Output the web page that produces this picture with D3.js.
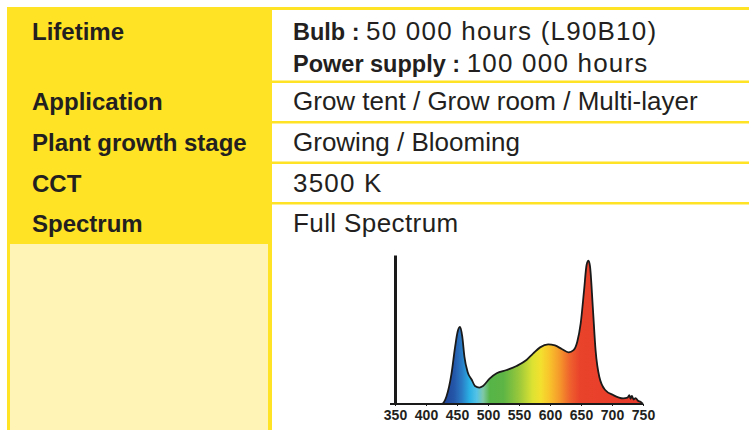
<!DOCTYPE html>
<html>
<head>
<meta charset="utf-8">
<script src="https://cdn.jsdelivr.net/npm/d3@7"></script>
<style>
  html,body{margin:0;padding:0;background:#fff;}
  svg{display:block;}
  .lbl{font-family:"Liberation Sans",Arial,sans-serif;font-weight:bold;font-size:24px;fill:#231f20;}
  .val{font-family:"Liberation Sans",Arial,sans-serif;font-size:26px;fill:#231f20;}
  .val tspan.b{font-weight:bold;font-size:23.5px;letter-spacing:0;}
  .tick text{font-family:"Liberation Sans Narrow","Arial Narrow",sans-serif;font-weight:bold;font-size:14px;fill:#231f20;}
</style>
</head>
<body>
<script>
// table rows
var labels = ['Lifetime', 'Application', 'Plant growth stage', 'CCT', 'Spectrum'];
var values = [
  [['Bulb : ', '50 000 hours (L90B10)'], ['Power supply : ', '100 000 hours']],
  [['', 'Grow tent / Grow room / Multi-layer']],
  [['', 'Growing / Blooming']],
  [['', '3500 K']],
  [['', 'Full Spectrum']]
];

// spectrum (relative intensity vs wavelength, nm)
var wavelength = [350, 425, 433, 441, 447, 451, 455, 458.5, 462, 467, 474, 479, 486, 492, 503, 514, 530, 546, 562, 573, 584, 597, 608, 619, 630, 638, 644, 649.5, 655, 659, 662, 664.5, 669, 673.5, 679.5, 689, 702, 718, 725, 728, 730, 732, 735, 738, 742, 746, 750];
var intensity  = [0,   0,   0.05, 0.2, 0.385, 0.485, 0.517, 0.452, 0.317, 0.217, 0.161, 0.121, 0.11, 0.121, 0.172, 0.206, 0.228, 0.255, 0.295, 0.34, 0.38, 0.4, 0.393, 0.369, 0.347, 0.362, 0.418, 0.541, 0.765, 0.933, 0.962, 0.925, 0.653, 0.362, 0.183, 0.094, 0.06, 0.038, 0.042, 0.06, 0.035, 0.055, 0.03, 0.04, 0.022, 0.015, 0];
var xTicks = [350, 400, 450, 500, 550, 600, 650, 700, 750];

var W = 749, H = 430;
var yellow = '#ffe324', pale = '#fff3b6';
var spacing = [1.2, 0, 0, 1.2, 0.4]; // the print font has wider figures
var svg = d3.select('body').append('svg').attr('width', W).attr('height', H);

// frame
svg.append('rect').attr('x', 7).attr('y', 7).attr('width', W - 7).attr('height', H - 7).attr('fill', yellow);
svg.append('rect').attr('x', 10).attr('y', 244).attr('width', 258).attr('height', H - 244).attr('fill', pale);

var rowTop = [10, 83, 123.5, 164, 204.5];
var rowBot = [80.5, 121, 161.5, 202, H];
svg.selectAll('rect.cell').data(rowTop).enter().append('rect')
  .attr('class', 'cell')
  .attr('x', 272).attr('y', function(d){ return d; })
  .attr('width', W - 272)
  .attr('height', function(d, i){ return rowBot[i] - d; })
  .attr('fill', '#fff');

var lblY = [39.5, 110, 151, 192, 232];
svg.selectAll('text.lbl').data(labels).enter().append('text')
  .attr('class', 'lbl')
  .attr('x', 32).attr('y', function(d, i){ return lblY[i]; })
  .text(function(d){ return d; });

values.forEach(function(lines, i){
  lines.forEach(function(ln, j){
    var t = svg.append('text').attr('class', 'val')
      .attr('x', 293).attr('y', lblY[i] + j * 32);
    if (ln[0]) t.append('tspan').attr('class', 'b').text(ln[0]);
    t.append('tspan').attr('letter-spacing', spacing[i]).text(ln[1]);
  });
});

// spectrum chart
var x = d3.scaleLinear().domain([350, 750]).range([395, 643]);
var y = d3.scaleLinear().domain([0, 1]).range([404, 255]);

var stops = [
  [425, '#1d3f93'], [445, '#2456a8'], [458, '#2a7cc4'], [470, '#2ab0e4'],
  [482, '#55c3e6'], [492, '#7fc8a8'], [503, '#56b447'], [525, '#5db545'],
  [550, '#9ac83b'], [572, '#dde232'], [585, '#f3e02e'], [598, '#f8c62b'],
  [615, '#f59a2b'], [632, '#ef622d'], [648, '#e9432b'], [750, '#e8392a']
];
var grad = svg.append('defs').append('linearGradient')
  .attr('id', 'spec').attr('gradientUnits', 'userSpaceOnUse')
  .attr('x1', x(350)).attr('x2', x(750)).attr('y1', 0).attr('y2', 0);
grad.selectAll('stop').data(stops).enter().append('stop')
  .attr('offset', function(d){ return (d[0] - 350) / 400; })
  .attr('stop-color', function(d){ return d[1]; });

var pts = wavelength.map(function(w, i){ return [w, intensity[i]]; });
var area = d3.area().curve(d3.curveMonotoneX)
  .x(function(d){ return x(d[0]); }).y0(y(0)).y1(function(d){ return y(d[1]); });
var line = d3.line().curve(d3.curveMonotoneX)
  .x(function(d){ return x(d[0]); }).y(function(d){ return y(d[1]); });

svg.append('path').attr('d', area(pts)).attr('fill', 'url(#spec)');
svg.append('path').attr('d', line(pts)).attr('fill', 'none')
  .attr('stroke', '#1a1a1a').attr('stroke-width', 1.8).attr('stroke-linejoin', 'round');

var xAxis = svg.append('g').attr('transform', 'translate(0,' + y(0) + ')')
  .call(d3.axisBottom(x).tickValues(xTicks).tickSize(2).tickSizeOuter(0).tickPadding(4));
xAxis.select('.domain').attr('stroke', '#1a1a1a').attr('stroke-width', 2)
  .attr('d', 'M' + (x(350) - 5) + ',0H' + x(750));
xAxis.selectAll('.tick line').attr('stroke', '#1a1a1a');

svg.append('g').attr('transform', 'translate(' + x(350) + ',0)')
  .call(d3.axisLeft(y).ticks(0).tickSize(0))
  .select('.domain').attr('stroke', '#1a1a1a').attr('stroke-width', 3);
</script>
</body>
</html>
